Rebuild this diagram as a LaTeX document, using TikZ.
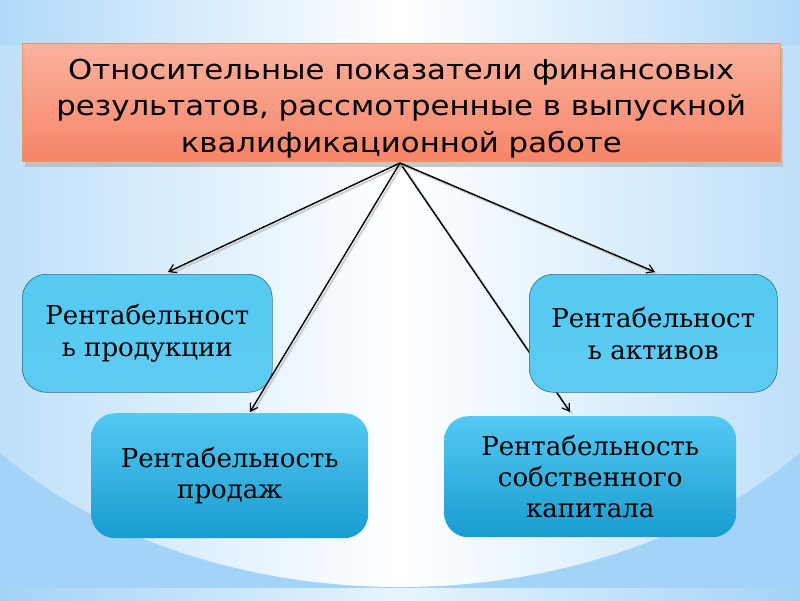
\documentclass[tikz,border=0pt]{standalone}
\usepackage{fontspec}
\setmainfont{DejaVu Serif}
\newfontfamily\titlefont[FakeStretch=1.12]{DejaVu Sans}
\usetikzlibrary{arrows.meta,shadings}
\definecolor{bgblue}{RGB}{163,211,247}
\definecolor{titletop}{RGB}{251,178,158}
\definecolor{titlebot}{RGB}{246,132,104}
\definecolor{titleedge}{RGB}{230,150,105}
\definecolor{boxflat}{RGB}{92,203,242}
\definecolor{boxedge}{RGB}{40,110,140}
\definecolor{gradtop}{RGB}{84,201,242}
\definecolor{gradbot}{RGB}{24,156,208}
\tikzset{
  flatbox/.style={draw=boxedge, line width=0.6pt, rounded corners=24pt,
    top color=gradtop!70!boxflat, bottom color=boxflat, align=center,
    font=\fontsize{26}{32}\selectfont, inner sep=0pt},
  gradbox/.style={rounded corners=24pt, top color=gradtop, bottom color=gradbot,
    align=center, font=\fontsize{26}{31}\selectfont, inner sep=0pt},
  conn/.style={line width=1.4pt, -{Straight Barb[length=7pt,width=9pt,line width=1.2pt]}},
  connshadow/.style={line width=2pt, gray!60, opacity=0.6},
}
\begin{document}
\begin{tikzpicture}[x=1pt,y=-1pt]
\useasboundingbox (0,0) rectangle (800,600);
% background
\fill[bgblue] (0,0) rectangle (800,600);
\begin{scope}
\clip (0,0) rectangle (800,588);
\clip (400,215) ellipse [x radius=520, y radius=372];
\shade[left color=bgblue!92!white, right color=bgblue!92!white, middle color=white] (-120,0) rectangle (920,600);
\end{scope}
\shade[left color=bgblue!85!white, right color=bgblue!85!white, middle color=white] (0,0) rectangle (800,45);
\shade[left color=bgblue, right color=bgblue, middle color=bgblue!25!white] (0,588) rectangle (800,600);
% title box with shadow
\fill[gray!55, opacity=0.8] (25,48) rectangle (783,167);
\node[draw=titleedge, line width=0.6pt, top color=titletop, bottom color=titlebot,
  minimum width=758pt, minimum height=118pt, inner sep=0pt, anchor=north west] (title) at (22,43) {};
\node[align=center, inner sep=0pt, font=\titlefont\fontsize{27.5}{36.5}\selectfont] (titletext)
  at ([yshift=-6pt]title.center)
  {Относительные показатели финансовых\\результатов, рассмотренные в выпускной\\квалификационной работе};
\coordinate (apex) at (400,163);
\coordinate (e1) at (168,272);
\coordinate (e2) at (250,412);
\coordinate (e3) at (570,412);
\coordinate (e4) at (655,272);
% arrow passing behind the assets box
\draw[connshadow] ([shift={(2,2)}]apex) -- ([shift={(2,2)}]e3);
\draw[conn] (apex) -- (e3);
% boxes
\node[flatbox, minimum width=250pt, minimum height=118pt, anchor=north west] (prod) at (22,274)
  {Рентабельност\\ь продукции};
\node[flatbox, minimum width=248pt, minimum height=118pt, anchor=north west] (assets) at (529,274)
  {Рентабельност\\ь активов};
\node[gradbox, minimum width=277pt, minimum height=125pt, anchor=north west] (sales) at (91,413)
  {Рентабельность\\продаж};
\node[gradbox, minimum width=292pt, minimum height=121pt, anchor=north west] (equity) at (444,416)
  {Рентабельность\\собственного\\капитала};
% other arrows
\foreach \e in {e1,e2,e4}{
  \draw[connshadow] ([shift={(2,2)}]apex) -- ([shift={(2,2)}]\e);
  \draw[conn] (apex) -- (\e);
}
\end{tikzpicture}
\end{document}
